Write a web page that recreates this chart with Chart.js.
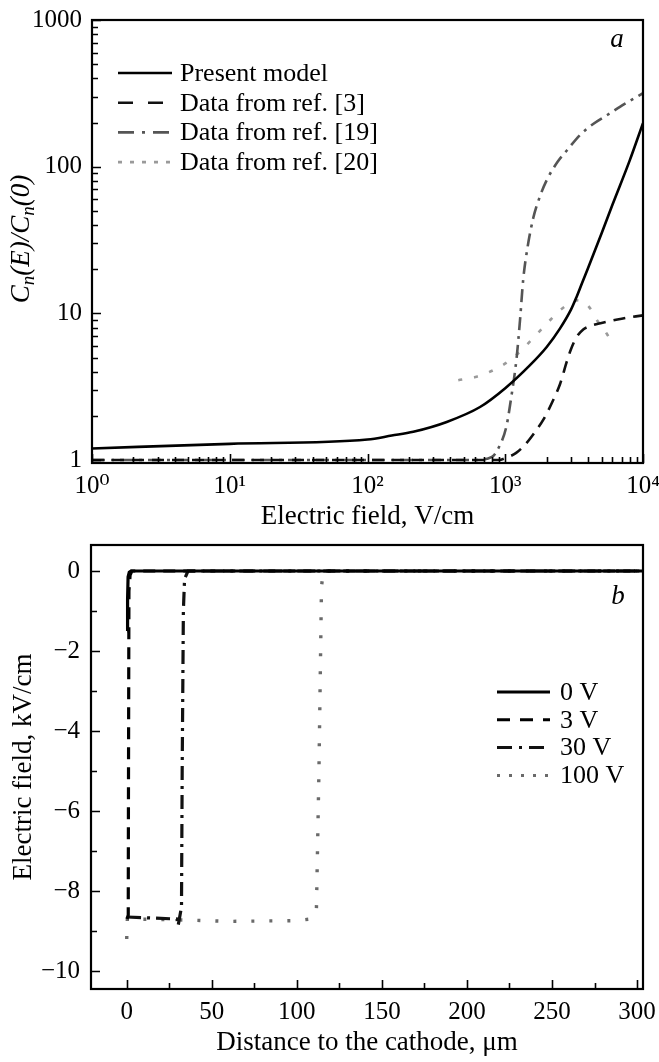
<!DOCTYPE html>
<html>
<head>
<meta charset="utf-8">
<script src="https://cdn.jsdelivr.net/npm/chart.js@4.4.1/dist/chart.umd.min.js"></script>
<style>
  html, body { margin: 0; padding: 0; background: #fff; }
  #wrap { position: relative; width: 659px; height: 1062px; }
  .box { position: absolute; left: 0; width: 659px; }
</style>
</head>
<body>
<div id="wrap">
  <div class="box" style="top:0;height:535px"><canvas id="c1"></canvas></div>
  <div class="box" style="top:535px;height:527px"><canvas id="c2"></canvas></div>
</div>
<script>
// ---------- Panel a: C_n(E)/C_n(0) vs electric field ----------
const modelE = [1, 10, 100, 150, 215, 376, 656, 1000, 1500, 2000, 2500, 3000, 3300, 3600, 4000, 5000, 6000, 8000, 10000];
const modelC = [1.2, 1.29, 1.38, 1.47, 1.56, 1.82, 2.3, 3.09, 4.4, 5.9, 7.9, 10.6, 13, 16, 20.5, 35, 55, 110, 198];

const ref3E = [1, 10, 100, 900, 1000, 1200, 1400, 1600, 1900, 2200, 2500, 2800, 3000, 3300, 3700, 4000, 5000, 7000, 10000];
const ref3C = [1.0, 1.0, 1.0, 1.0, 1.03, 1.12, 1.28, 1.5, 1.9, 2.5, 3.3, 4.7, 5.7, 6.9, 7.8, 8.1, 8.6, 9.2, 9.7];

const ref19E = [1, 10, 100, 600, 800, 890, 1020, 1100, 1210, 1280, 1350, 1450, 1600, 1800, 2000, 2400, 2800, 3500, 4400, 5500, 6800, 8500, 10000];
const ref19C = [1.0, 1.0, 1.0, 1.0, 1.05, 1.2, 1.7, 2.6, 5.0, 9, 17, 28, 45, 64, 81, 108, 129, 165, 197, 225, 256, 290, 317];

const ref20E = [456, 620, 820, 1050, 1280, 1600, 2000, 2500, 3000, 3400, 3800, 4200, 4700, 5200, 5700];
const ref20C = [3.5, 3.7, 4.1, 4.7, 5.5, 6.8, 8.5, 10.5, 11.8, 12.3, 11.8, 10.6, 8.8, 7.8, 6.8];

const seriesNamesA = ['Present model', 'Data from ref. [3]', 'Data from ref. [19]', 'Data from ref. [20]'];
const xTicksA = [1, 10, 100, 1000, 10000];
const xTickLabelsA = ['10\u2070', '10\u00B9', '10\u00B2', '10\u00B3', '10\u2074'];
const yTicksA = [1, 10, 100, 1000];
const yTickLabelsA = ['1', '10', '100', '1000'];

// ---------- Panel b: electric field vs distance ----------
const posV0 = [0.4, 0.5, 0.8, 1.5, 2.5, 310];
const fieldV0 = [-1.5, -0.7, -0.15, -0.03, 0, 0];

const posV3 = [0.2, 0.9, 1.0, 1.3, 2, 3, 310];
const fieldV3 = [-8.7, -8.6, -6, -0.5, -0.1, 0, 0];

const posV30 = [0.2, 29.5, 30.2, 32.2, 32.6, 33.3, 34, 36, 310];
const fieldV30 = [-8.65, -8.7, -8.87, -8.4, -5, -1, -0.2, 0, 0];

const posV100 = [0, 0.15, 0.4, 30, 60, 100, 108, 111.5, 113, 114.5, 115.5, 310];
const fieldV100 = [-9.2, -8.9, -8.7, -8.72, -8.76, -8.74, -8.7, -8.5, -5, -0.4, 0, 0];

const seriesNamesB = ['0 V', '3 V', '30 V', '100 V'];
const xTicksB = [0, 25, 50, 75, 100, 125, 150, 175, 200, 225, 250, 275, 300];
const xLabelsB = [0, 50, 100, 150, 200, 250, 300];
const yTicksB = [-10, -9, -8, -7, -6, -5, -4, -3, -2, -1, 0];
const yLabelsB = [-10, -8, -6, -4, -2, 0];

// ---------- helpers ----------
const SERIF = '"Liberation Serif", "DejaVu Serif", serif';
const pts = (xs, ys) => xs.map((x, i) => ({x: x, y: ys[i]}));

function logTicks(lo, hi) {
  const out = [];
  for (let d = lo; d < hi; d++) for (let m = 1; m <= 9; m++) out.push(m * Math.pow(10, d));
  out.push(Math.pow(10, hi));
  return out;
}
function noPad(s) { s.paddingTop = 0; s.paddingBottom = 0; s.paddingLeft = 0; s.paddingRight = 0; }

const decor = {
  id: 'decor',
  afterDatasetsDraw(chart, args, o) {
    const {ctx, chartArea: a, scales} = chart;
    ctx.save();
    ctx.strokeStyle = '#000';
    ctx.setLineDash([]);
    ctx.lineWidth = 1.6;
    const xs = scales.x, ys = scales.y;
    ctx.beginPath();
    xs.ticks.forEach(t => {
      const p = Math.round(xs.getPixelForValue(t.value)) + 0.5;
      const len = t.label !== '' ? o.major : o.minor;
      ctx.moveTo(p, a.bottom); ctx.lineTo(p, a.bottom - len);
    });
    ys.ticks.forEach(t => {
      const p = Math.round(ys.getPixelForValue(t.value)) + 0.5;
      const len = t.label !== '' ? o.major : o.minor;
      ctx.moveTo(a.left, p); ctx.lineTo(a.left + len, p);
    });
    ctx.stroke();
    ctx.lineWidth = 2.2;
    ctx.strokeRect(a.left, a.top, a.right - a.left, a.bottom - a.top);

    // legend
    const L = o.legend;
    ctx.textBaseline = 'middle';
    ctx.textAlign = 'left';
    ctx.font = '26px ' + SERIF;
    L.items.forEach((it, i) => {
      const y = L.y + i * L.step;
      ctx.beginPath();
      ctx.strokeStyle = it.color;
      ctx.lineWidth = it.width;
      ctx.lineCap = 'butt';
      ctx.setLineDash(it.dash);
      ctx.moveTo(L.x1, y); ctx.lineTo(L.x2, y);
      ctx.stroke();
      ctx.setLineDash([]);
      ctx.fillStyle = '#000';
      ctx.fillText(it.text, L.tx, y + 1);
    });

    // panel letter
    ctx.font = 'italic 27px ' + SERIF;
    ctx.textAlign = 'center';
    ctx.fillStyle = '#000';
    ctx.fillText(o.letter.text, o.letter.x, o.letter.y);

    // rich y title
    if (o.ytitle) {
      const T = o.ytitle;
      ctx.translate(T.x, T.y);
      ctx.rotate(-Math.PI / 2);
      ctx.textAlign = 'left';
      ctx.textBaseline = 'middle';
      const big = 'italic 27px ' + SERIF, small = 'italic 19px ' + SERIF;
      let w = 0;
      T.parts.forEach(p => { ctx.font = p.sub ? small : big; w += ctx.measureText(p.t).width; });
      let x = -w / 2;
      T.parts.forEach(p => {
        ctx.font = p.sub ? small : big;
        ctx.fillText(p.t, x, p.sub ? 7 : 0);
        x += ctx.measureText(p.t).width;
      });
    }
    ctx.restore();
  }
};

const tickFont = {family: SERIF, size: 25};
const titleFont = {family: SERIF, size: 27};

// ---------- chart a ----------
new Chart(document.getElementById('c1'), {
  type: 'line',
  data: {
    datasets: [
      {label: seriesNamesA[0], data: pts(modelE, modelC), borderColor: '#000', borderWidth: 2.6, cubicInterpolationMode: 'monotone'},
      {label: seriesNamesA[1], data: pts(ref3E, ref3C), borderColor: '#111', borderWidth: 2.6, borderDash: [12, 8], cubicInterpolationMode: 'monotone'},
      {label: seriesNamesA[2], data: pts(ref19E, ref19C), borderColor: '#555', borderWidth: 2.6, borderDash: [13, 6, 3, 6], cubicInterpolationMode: 'monotone'},
      {label: seriesNamesA[3], data: pts(ref20E, ref20C), borderColor: '#9a9a9a', borderWidth: 2.6, borderDash: [4, 12], cubicInterpolationMode: 'monotone'}
    ]
  },
  options: {
    responsive: true, maintainAspectRatio: false, animation: false,
    layout: {padding: {left: 0, right: 16, top: 20, bottom: 0}},
    elements: {point: {radius: 0}},
    plugins: {
      legend: {display: false}, tooltip: {enabled: false},
      decor: {
        major: 9, minor: 6,
        legend: {x1: 118, x2: 172, tx: 180, y: 73, step: 29.7, items: [
          {text: seriesNamesA[0], color: '#000', width: 2.6, dash: []},
          {text: seriesNamesA[1], color: '#111', width: 2.6, dash: [15, 15]},
          {text: seriesNamesA[2], color: '#555', width: 2.6, dash: [16, 8, 3, 8]},
          {text: seriesNamesA[3], color: '#9a9a9a', width: 2.6, dash: [4, 8]}
        ]},
        letter: {text: 'a', x: 617, y: 40},
        ytitle: {x: 22, y: 239, parts: [
          {t: 'C'}, {t: 'n', sub: true}, {t: '(E)/C'}, {t: 'n', sub: true}, {t: '(0)'}
        ]}
      }
    },
    scales: {
      x: {
        type: 'logarithmic', min: 1, max: 10000,
        grid: {display: false, drawTicks: false}, border: {display: false},
        afterBuildTicks: s => { s.ticks = logTicks(0, 4).map(v => ({value: v})); },
        afterFit: s => { s.height = 72; noPad(s); },
        ticks: {
          autoSkip: false, maxRotation: 0, padding: 8, color: '#000', font: tickFont,
          callback: v => { const i = xTicksA.indexOf(v); return i >= 0 ? xTickLabelsA[i] : ''; }
        },
        title: {display: true, text: 'Electric field, V/cm', color: '#000', font: titleFont, padding: {top: 0, bottom: 2}}
      },
      y: {
        type: 'logarithmic', min: 0.955, max: 1000,
        grid: {display: false, drawTicks: false}, border: {display: false},
        afterBuildTicks: s => { s.ticks = logTicks(0, 3).map(v => ({value: v})); },
        afterFit: s => { s.width = 92; noPad(s); },
        ticks: {
          autoSkip: false, padding: 10, color: '#000', font: tickFont,
          callback: v => { const i = yTicksA.indexOf(v); return i >= 0 ? yTickLabelsA[i] : ''; }
        }
      }
    }
  },
  plugins: [decor]
});

// ---------- chart b ----------
const minus = v => v < 0 ? '\u2212' + Math.abs(v) : String(v);
new Chart(document.getElementById('c2'), {
  type: 'line',
  data: {
    datasets: [
      {label: seriesNamesB[0], data: pts(posV0, fieldV0), borderColor: '#000', borderWidth: 3.2},
      {label: seriesNamesB[1], data: pts(posV3, fieldV3), borderColor: '#000', borderWidth: 3.2, borderDash: [12, 8]},
      {label: seriesNamesB[2], data: pts(posV30, fieldV30), borderColor: '#111', borderWidth: 3.2, borderDash: [14, 6, 3, 6]},
      {label: seriesNamesB[3], data: pts(posV100, fieldV100), borderColor: '#6a6a6a', borderWidth: 3.4, borderDash: [3, 15]}
    ]
  },
  options: {
    responsive: true, maintainAspectRatio: false, animation: false,
    layout: {padding: {left: 0, right: 16, top: 10, bottom: 0}},
    elements: {point: {radius: 0}, line: {tension: 0}},
    plugins: {
      legend: {display: false}, tooltip: {enabled: false},
      decor: {
        major: 9, minor: 6,
        legend: {x1: 497, x2: 550, tx: 560, y: 157, step: 27.8, items: [
          {text: seriesNamesB[0], color: '#000', width: 3, dash: []},
          {text: seriesNamesB[1], color: '#000', width: 3, dash: [13, 10]},
          {text: seriesNamesB[2], color: '#111', width: 3, dash: [15, 7, 3, 7]},
          {text: seriesNamesB[3], color: '#6a6a6a', width: 3, dash: [3, 9]}
        ]},
        letter: {text: 'b', x: 618, y: 62}
      }
    },
    scales: {
      x: {
        type: 'linear', min: -21, max: 303.5,
        grid: {display: false, drawTicks: false}, border: {display: false},
        afterBuildTicks: s => { s.ticks = xTicksB.map(v => ({value: v})); },
        afterFit: s => { s.height = 73; noPad(s); },
        ticks: {
          autoSkip: false, maxRotation: 0, padding: 8, color: '#000', font: tickFont,
          callback: v => xLabelsB.includes(v) ? String(v) : ''
        },
        title: {display: true, text: 'Distance to the cathode, \u03BCm', color: '#000', font: titleFont, padding: {top: 0, bottom: 3}}
      },
      y: {
        type: 'linear', min: -10.45, max: 0.65,
        grid: {display: false, drawTicks: false}, border: {display: false},
        afterBuildTicks: s => { s.ticks = yTicksB.map(v => ({value: v})); },
        afterFit: s => { s.width = 91; noPad(s); },
        ticks: {
          autoSkip: false, padding: 11, color: '#000', font: tickFont,
          callback: v => yLabelsB.includes(v) ? minus(v) : ''
        },
        title: {display: true, text: 'Electric field, kV/cm', color: '#000', font: titleFont, padding: {top: 8, bottom: 0}}
      }
    }
  },
  plugins: [decor]
});
</script>
</body>
</html>
